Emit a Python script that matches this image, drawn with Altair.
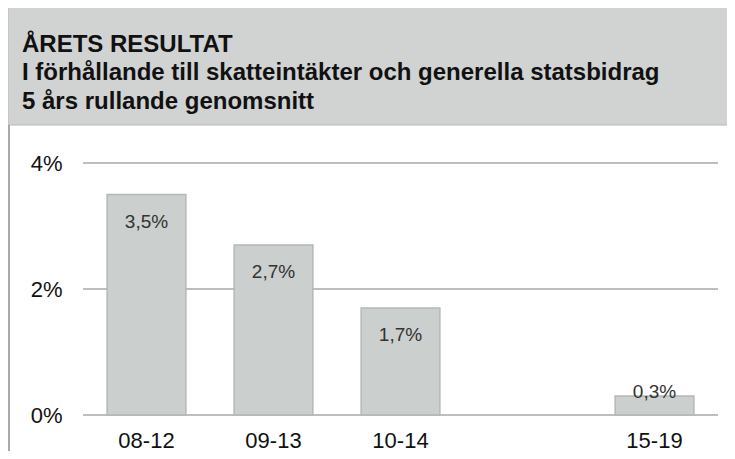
import altair as alt
import pandas as pd

categories = ["08-12", "09-13", "10-14", " ", "15-19"]
values = [3.5, 2.7, 1.7, None, 0.3]
labels = ["3,5%", "2,7%", "1,7%", "", "0,3%"]
y_ticks = [0, 2, 4]

title_lines = [
    "ÅRETS RESULTAT",
    "I förhållande till skatteintäkter och generella statsbidrag",
    "5 års rullande genomsnitt",
]

df = pd.DataFrame({"period": categories, "value": values, "label": labels})
bars_df = df.dropna()

x_scale = alt.Scale(domain=categories, paddingInner=0.38, paddingOuter=0.19)
x_axis = alt.Axis(
    title=None, labelFontSize=22, labelColor="#111111", labelFont="Liberation Sans",
    ticks=False, domain=False, labelPadding=15, labelAngle=0, grid=False,
)
y_scale = alt.Scale(domain=[0, 4], nice=False)
y_axis = alt.Axis(
    title=None, values=y_ticks, labelExpr="datum.value + '%'",
    labelFontSize=22, labelColor="#111111", labelFont="Liberation Sans",
    ticks=False, domain=False, grid=False, labelPadding=21,
)

header = alt.Chart(pd.DataFrame({"a": [0]})).mark_rect(
    color="#d0d3d2", stroke="#b8bbba", strokeWidth=1
).encode(
    x=alt.value(-75), x2=alt.value(660), y=alt.value(-156), y2=alt.value(-38)
)
left_border = alt.Chart(pd.DataFrame({"a": [0]})).mark_rule(
    color="#a8abaa", strokeWidth=2
).encode(
    x=alt.value(-74), y=alt.value(-38), y2=alt.value(290)
)

grid = alt.Chart(pd.DataFrame({"tick": y_ticks})).mark_rule(
    color="#7f7f7f", strokeWidth=1.2
).encode(
    y=alt.Y("tick:Q", scale=y_scale, axis=y_axis),
    x=alt.value(0), x2=alt.value(635),
)

bars = alt.Chart(bars_df).mark_bar(
    color="#cbcfce", stroke="#b4b8b7", strokeWidth=1.5
).encode(
    x=alt.X("period:N", sort=categories, scale=x_scale, axis=x_axis),
    y=alt.Y("value:Q", scale=y_scale, axis=y_axis),
)

text_in = alt.Chart(bars_df).transform_filter("datum.value >= 1").mark_text(
    fontSize=19, color="#333333", font="Liberation Sans", baseline="middle", dy=27
).encode(
    x=alt.X("period:N", sort=categories, scale=x_scale, axis=x_axis),
    y=alt.Y("value:Q", scale=y_scale, axis=y_axis),
    text="label:N",
)
text_out = alt.Chart(bars_df).transform_filter("datum.value < 1").mark_text(
    fontSize=19, color="#333333", font="Liberation Sans", baseline="middle", dy=-4
).encode(
    x=alt.X("period:N", sort=categories, scale=x_scale, axis=x_axis),
    y=alt.Y("value:Q", scale=y_scale, axis=y_axis),
    text="label:N",
)

chart = alt.layer(header, left_border, grid, bars, text_in, text_out).properties(
    width=635,
    height=252,
    autosize=alt.AutoSizeParams(type="none"),
    padding={"left": 75, "top": 155, "right": 9, "bottom": 36},
    background="white",
    title=alt.Title(
        title_lines, anchor="start", frame="group", dx=-61, offset=0, dy=107,
        font="Liberation Sans Narrow, Liberation Sans", fontSize=24, fontWeight="bold",
        color="#111111", lineHeight=28.5,
    ),
).configure_view(strokeWidth=0)

chart.save("out.html", embed_options={"renderer": "svg", "actions": False})
